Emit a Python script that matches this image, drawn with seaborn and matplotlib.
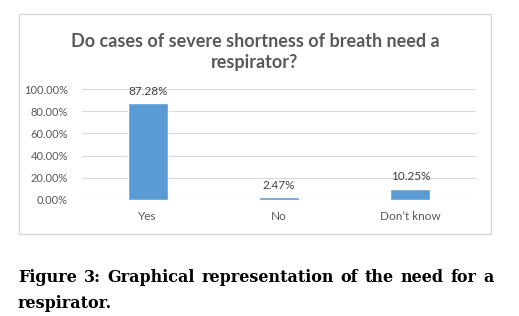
import matplotlib
matplotlib.use("Agg")
import matplotlib.pyplot as plt
import seaborn as sns
import pandas as pd
from matplotlib.patches import Rectangle
from matplotlib.ticker import FuncFormatter

categories = ["Yes", "No", "Don\u2019t know"]
values = [0.8728, 0.0247, 0.1025]
labels = ["87.28%", "2.47%", "10.25%"]
yticks = [0.0, 0.2, 0.4, 0.6, 0.8, 1.0]

title = "Do cases of severe shortness of breath need a\nrespirator?"
caption1 = "Figure 3: Graphical representation of the need for a"
caption2 = "respirator."

sns.set_theme(style="white")
plt.rcParams['font.family'] = ['Lato', 'DejaVu Sans']

W, H = 519, 316
fig = plt.figure(figsize=(W / 100, H / 100), dpi=100)

# chart box
fig.patches.append(Rectangle((19 / W, 1 - 234 / H), 472 / W, 220 / H,
                             transform=fig.transFigure, facecolor="white",
                             edgecolor="#D9D9D9", linewidth=1.0, zorder=-5))

ax = fig.add_axes([82 / W, 1 - 200 / H, 394 / W, 111 / H])
df = pd.DataFrame({"cat": categories, "val": values})
sns.barplot(data=df, x="cat", y="val", color="#5B9BD5", width=0.305,
            saturation=1, ax=ax, zorder=3)
ax.set_xlim(-0.5, 2.5)
ax.set_ylim(0, 1.0)
ax.set_yticks(yticks)
ax.yaxis.set_major_formatter(FuncFormatter(lambda v, p: f"{v*100:.2f}%"))
ax.grid(axis="y", color="#D9D9D9", linewidth=0.8, zorder=0)
ax.set_axisbelow(True)
for s in ax.spines.values():
    s.set_visible(False)
ax.set_xlabel("")
ax.set_ylabel("")
ax.tick_params(axis="y", labelsize=8, colors="#595959", pad=10, length=0)
ax.tick_params(axis="x", labelsize=8.5, colors="#595959", pad=8, length=0)
ax.patch.set_alpha(0)

for i, (v, lab) in enumerate(zip(values, labels)):
    ax.annotate(lab, (i, v), xytext=(0, 4.5), textcoords="offset points",
                ha="center", va="bottom", fontsize=8.5, color="#404040")

fig.text(0.5 * (19 + 491) / W, 1 - 52 / H, title, ha="center", va="center",
         fontsize=13, fontweight="bold", color="#595959", linespacing=1.3)

# justified caption line 1
cap_kw = dict(fontsize=11.5, fontweight="bold", color="black", family="DejaVu Serif")
renderer = fig.canvas.get_renderer()
words = caption1.split(" ")
x_left, x_right = 18, 494
tmp = [fig.text(0, 0, w, **cap_kw) for w in words]
widths = [t.get_window_extent(renderer).width for t in tmp]
for t in tmp:
    t.remove()
gap = (x_right - x_left - sum(widths)) / (len(words) - 1)
x = x_left
for w, wd in zip(words, widths):
    fig.text(x / W, 1 - 278 / H, w, ha="left", va="center", **cap_kw)
    x += wd + gap
fig.text(18 / W, 1 - 303 / H, caption2, ha="left", va="center", **cap_kw)

fig.savefig("out.png", dpi=100)
